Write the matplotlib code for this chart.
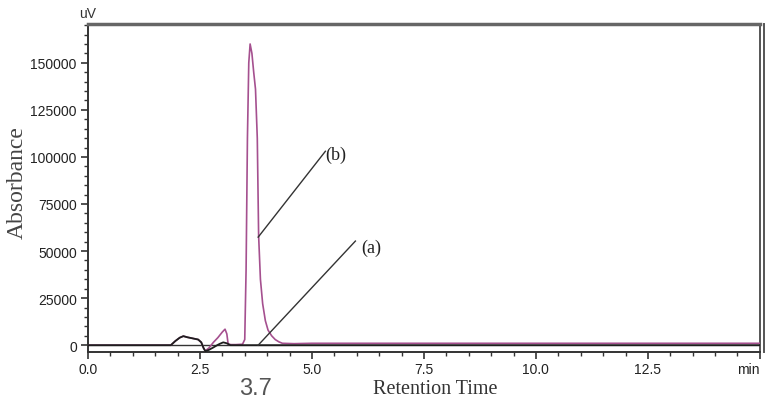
import numpy as np
import matplotlib
matplotlib.use("Agg")
import matplotlib.pyplot as plt

# trace (a): black
t_a = [0.0, 1.85, 1.95, 2.05, 2.13, 2.22, 2.3, 2.38, 2.46, 2.53, 2.58, 2.62,
       2.7, 2.8, 2.9, 2.95, 3.02, 3.1, 3.18, 3.3, 15.0]
y_a = [0, 0, 2200, 4000, 4800, 4200, 3800, 3400, 3000, 1500, -1500, -3200,
       -2500, -1200, 200, 800, 1500, 1000, 0, 0, 0]

# trace (b): purple
t_b = [0.0, 1.85, 1.95, 2.05, 2.13, 2.22, 2.3, 2.38, 2.46, 2.53, 2.58, 2.62,
       2.7, 2.8, 2.9, 3.0, 3.06, 3.1, 3.13, 3.2, 3.3, 3.45, 3.5, 3.53, 3.56,
       3.59, 3.62, 3.66, 3.7, 3.74, 3.78, 3.81, 3.85, 3.9, 3.96, 4.02, 4.1,
       4.18, 4.26, 4.34, 4.6, 5.0, 15.0]
y_b = [0, 0, 2200, 4000, 4800, 4200, 3800, 3400, 3000, 1500, -1500, -3000,
       -1500, 1500, 4000, 7000, 8500, 6000, 500, 300, 300, 500, 3000, 40000,
       110000, 150000, 160000, 155000, 145000, 136000, 110000, 58000, 35000,
       22000, 13000, 8000, 5000, 3000, 1800, 1000, 800, 1000, 1000]

xticks = [0.0, 2.5, 5.0, 7.5, 10.0, 12.5, 15.0]
xtick_labels = ["0.0", "2.5", "5.0", "7.5", "10.0", "12.5", "min"]
yticks = [0, 25000, 50000, 75000, 100000, 125000, 150000]

fig = plt.figure(figsize=(7.75, 4.14), dpi=100)
ax = fig.add_axes([0.1135, 0.147, 0.867, 0.793])

ax.axhline(0, color="#333333", lw=1.0, zorder=1)
ax.plot(t_b, y_b, color="#a5508f", lw=1.2, zorder=3)
ax.plot(t_a, y_a, color="#1e1e1e", lw=1.3, zorder=4)

ax.set_xlim(0, 15)
ax.set_ylim(-3700, 170700)

ax.set_xticks(xticks)
ax.set_xticklabels(xtick_labels)
ax.set_xticks(np.arange(0, 15.01, 0.5), minor=True)
ax.set_yticks(yticks)
ax.set_yticks(np.arange(0, 170001, 5000), minor=True)

for lab in ax.get_xticklabels() + ax.get_yticklabels():
    lab.set_fontfamily("Liberation Sans")
    lab.set_fontsize(10)
    lab.set_color("#222222")
ax.get_xticklabels()[-1].set_ha("right")

ax.tick_params(which="major", direction="out", length=5, width=1.2, color="#333333", pad=3)
ax.tick_params(axis="x", which="major", pad=2)
ax.tick_params(which="minor", direction="out", length=3, width=1.0, color="#333333")

for side in ["left", "bottom"]:
    ax.spines[side].set_color("#333333")
    ax.spines[side].set_linewidth(1.4)
ax.spines["top"].set_color("#666666")
ax.spines["top"].set_linewidth(2.5)
ax.spines["right"].set_color("#555555")
ax.spines["right"].set_linewidth(1.4)
# second line of the double right border
ax.plot([1.006, 1.006], [0, 1.0], transform=ax.transAxes, color="#555555",
        lw=1.4, clip_on=False)

ax.text(0.0, 1.012, "uV", transform=ax.transAxes, ha="center", va="bottom",
        fontsize=10, family="Liberation Sans", color="#333333")

# axis titles
ax.text(7.76, -0.124, "Retention Time", transform=ax.get_xaxis_transform(),
        ha="center", va="baseline", family="Liberation Serif", fontsize=14.5,
        color="#333333")
ax.text(-0.105, 0.52, "Absorbance", transform=ax.transAxes, rotation=90,
        ha="center", va="center", family="Liberation Serif", fontsize=17,
        color="#444444")

ax.text(3.74, -0.075, "3.7", transform=ax.get_xaxis_transform(), ha="center",
        va="top", fontsize=17, family="Liberation Sans", color="#555555")

# annotation pointers
ax.plot([3.8, 5.3], [57400, 103000], color="#333333", lw=1.0, zorder=5)
ax.text(5.3, 101500, "(b)", family="Liberation Serif", fontsize=13,
        color="#222222", va="center", ha="left")
ax.plot([3.8, 5.97], [0, 55300], color="#333333", lw=1.0, zorder=5)
ax.text(6.1, 52000, "(a)", family="Liberation Serif", fontsize=13,
        color="#222222", va="center", ha="left")

fig.savefig("out.png", dpi=100)
